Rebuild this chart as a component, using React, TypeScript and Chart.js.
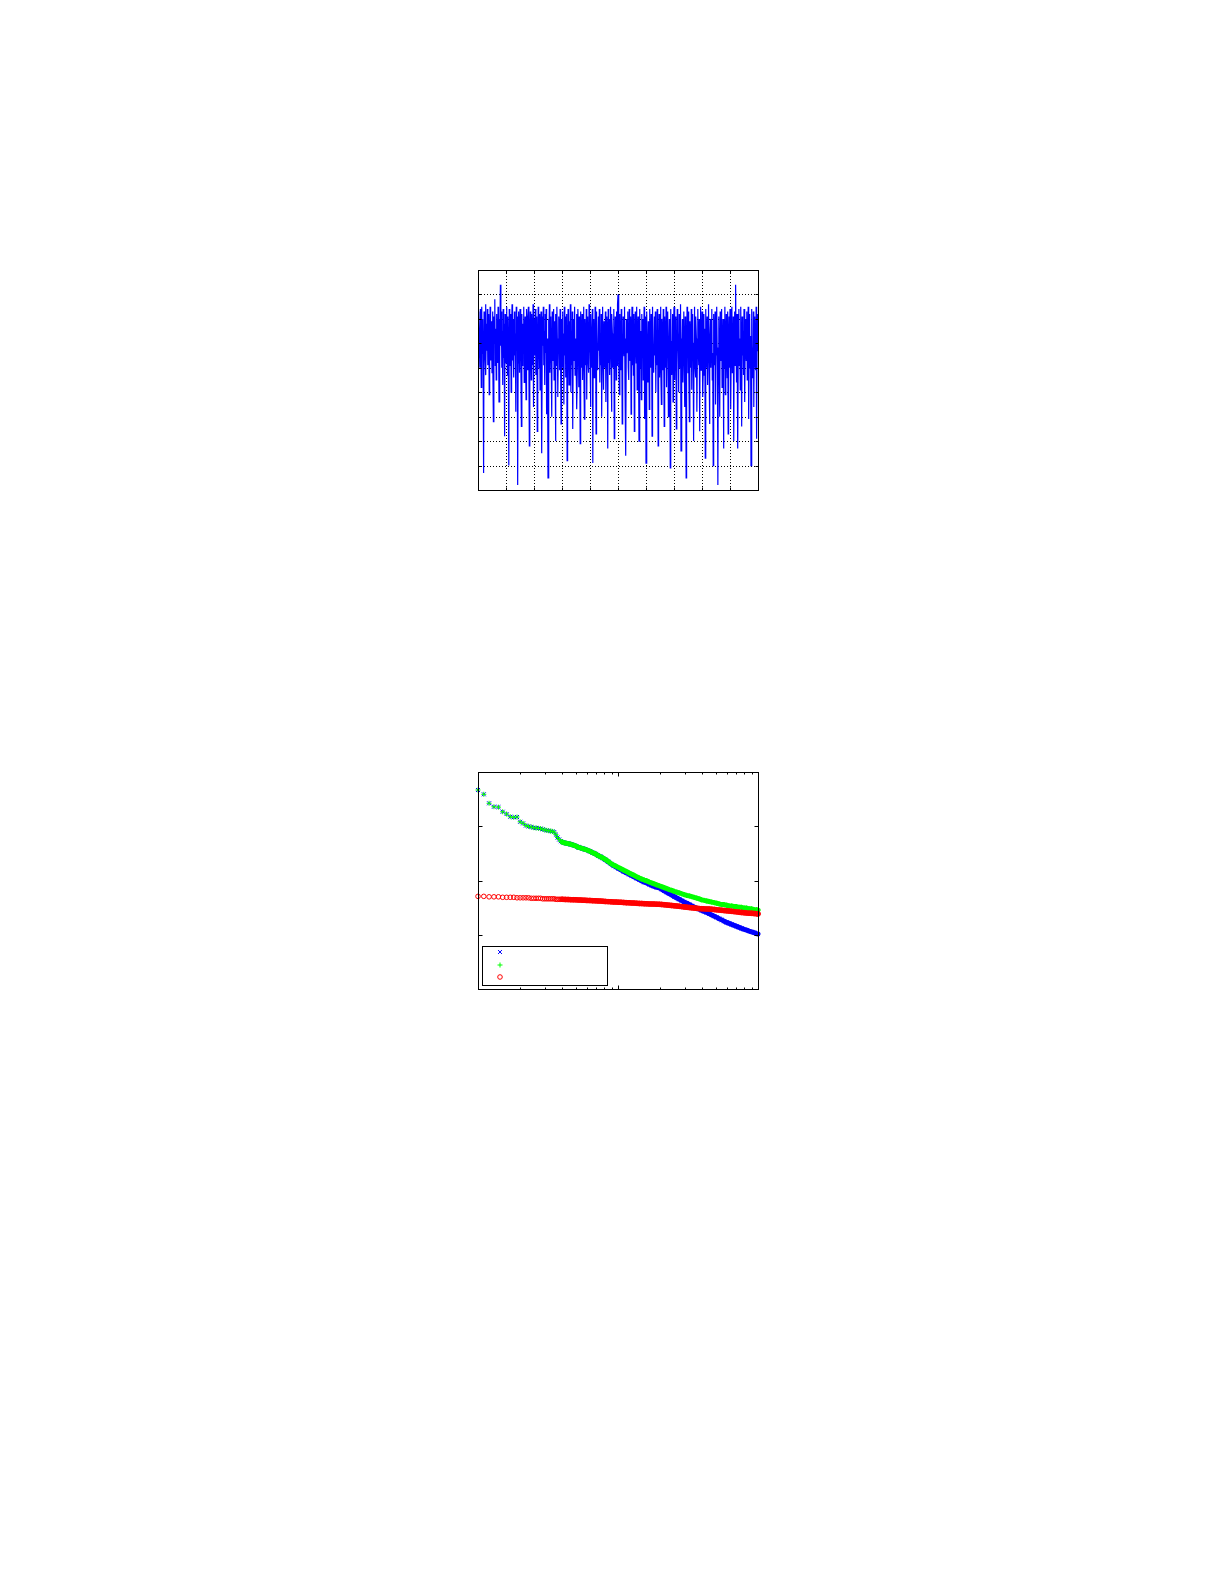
import React, { useEffect, useRef } from "react";
import { Chart, registerables } from "chart.js";

Chart.register(...registerables);

// ---------- Top chart: noisy signal ----------
const noiseSignal: number[] = [
  0.3, -1.6, 0.1, -1.1, -2.0, 0.4, -0.6, -2.8, 0.5, -1.4, 0.0, -1.8, -6.3, 0.3, -0.9, -1.5, 0.6, -2.3, -0.2, -1.3,
  0.4, -1.9, -0.5, 0.2, -3.1, -1.2, 0.5, -1.7, -0.1, -0.8, -2.2, 0.3, -1.4, -4.2, 0.1, -1.0, 0.8, -1.9, -0.4, -2.5,
  0.2, -1.3, -1.8, 0.5, -0.6, -3.4, 0.0, -1.5, 1.4, -1.1, 0.3, -2.0, -0.5, -2.7, 0.4, -1.6, -0.2, -4.8, 0.2, -1.2,
  -1.8, 0.5, -0.7, -2.3, 0.1, -1.4, -6.0, 0.4, -1.0, -1.9, 0.2, -3.0, -0.4, 0.6, -1.7, -0.9, 0.0, -2.4, 0.3, -1.5,
  -0.6, -3.8, 0.5, -1.3, 0.1, -6.8, -1.8, 0.3, -0.5, -2.2, 0.4, -1.4, -1.0, -4.4, 0.2, -1.9, -0.2, -1.2, 0.5, -2.6,
  -0.7, 0.1, -1.6, -3.3, 0.4, -1.1, -2.1, 0.0, 0.5, -1.8, -5.2, -0.5, 0.3, -1.4, -2.5, 0.2, -1.0, -1.9, 0.6, -3.6,
  0.0, -1.5, -0.6, 0.4, -2.3, -1.2, 0.1, -4.6, -1.7, 0.5, -0.9, -2.0, 0.2, -2.9, -0.4, 0.3, -1.6, -5.5, 0.1, -1.1,
  0.5, -1.9, -0.5, -2.7, 0.2, -1.4, 0.4, -3.9, -0.8, -1.8, -6.5, 0.0, -1.3, 0.6, -2.2, -0.6, 0.1, -2.0, -4.0, 0.3,
  -1.0, -1.7, 0.4, -2.5, -0.1, -1.2, -5.0, 0.2, -1.9, 0.5, -0.8, -3.2, -1.4, 0.1, -0.5, -2.1, 0.4, -1.6, -4.3, 0.0,
  -1.3, 0.3, -2.0, -0.6, -3.5, 0.5, -1.5, 0.1, -2.4, -0.9, 0.2, -5.8, -1.8, 0.4, -1.1, -2.7, -0.1, -1.4, 0.6, -3.0,
  -0.5, -1.9, 0.3, -4.5, -1.2, 0.0, -1.7, 0.5, -2.3, -0.8, -1.3, 0.2, -3.7, -1.9, 0.4, -0.4, -2.8, 0.1, -1.5, -5.1,
  0.3, -1.0, -2.0, 0.2, -2.5, -0.6, 0.5, -1.6, -4.1, 0.0, -1.2, -1.9, 0.4, -3.3, -0.5, 0.1, -1.8, -2.2, 0.6, -0.9,
  -1.4, -3.6, 0.2, -1.1, -2.0, 0.4, -5.9, -0.8, 0.0, -2.4, -1.5, 0.5, -0.5, -4.7, 0.3, -1.7, -1.0, -2.1, 0.1, -1.3,
  0.4, -2.6, -0.6, -1.9, 0.2, -4.0, -1.2, 0.5, -1.6, -2.9, -0.1, -0.9, -2.0, 0.3, -3.4, -1.4, 0.1, -0.7, -5.3, 0.4,
  -1.8, 0.0, -2.3, -1.0, 0.5, -1.5, -3.8, 0.2, -0.6, -2.0, -1.3, 0.4, -4.9, -1.7, 0.1, -1.1, -2.5, 0.3, -1.9, 0.6,
  1.0, -0.9, -1.6, -3.1, 0.2, -1.2, -2.1, 0.4, -0.5, -4.3, -1.9, 0.1, -1.0, -1.5, 0.5, -2.7, -0.8, -5.6, 0.0, -1.4,
  -0.6, 0.3, -2.0, -2.5, 0.4, -1.3, -1.7, 0.1, -3.9, -0.9, 0.5, -1.9, -0.4, -2.3, 0.2, -4.6, -1.4, 0.3, -1.1, -1.8,
  0.5, -2.9, -0.7, 0.1, -1.6, -5.0, -1.2, 0.4, -2.0, -0.5, -3.3, 0.2, -1.5, 0.0, -2.5, -1.0, 0.5, -4.1, -1.9, 0.1,
  -5.9, -1.3, 0.3, -1.7, -2.6, -0.1, -0.9, -3.7, 0.4, -1.4, -2.0, 0.2, -0.6, -4.8, 0.5, -1.8, -1.1, -2.2, 0.1, -1.5,
  0.3, -3.0, -1.0, -1.9, 0.4, -0.5, -5.2, -1.6, 0.2, -2.4, -1.2, 0.5, -1.9, -3.5, 0.0, -0.8, -2.1, 0.4, -1.4, -4.4,
  0.1, -1.1, -2.0, 0.5, -2.8, -0.6, -1.5, 0.3, -4.0, -1.3, 0.0, -1.8, -6.1, 0.4, -0.9, -2.3, -1.4, 0.2, -3.4, -0.4,
  0.5, -1.7, -2.5, 0.1, -1.0, -4.5, -1.9, 0.4, -0.5, -1.4, -3.0, 0.2, -1.2, -2.0, 0.6, -5.4, -0.8, -1.6, 0.0, -2.6,
  -0.9, 0.3, -1.9, -3.6, 0.1, -1.3, -6.5, -1.5, 0.5, -0.6, -2.2, 0.3, -1.8, -4.2, -0.1, -1.1, -2.0, 0.4, -2.9, -0.5,
  0.2, -1.4, -5.0, -1.0, 0.5, -1.9, -2.4, 0.1, -0.8, -3.8, -1.6, 0.4, -1.2, -1.9, 0.0, -4.6, -0.6, 0.5, -2.1, -1.5,
  0.3, -0.9, -3.2, -1.8, 0.2, -2.3, -0.4, -5.7, 0.4, -1.3, -2.0, 0.1, -2.7, -0.8, 0.6, -1.6, -4.3, -1.1, 0.0, -2.0,
  -0.5, 0.4, -2.5, -1.4, -6.0, 0.2, -1.0, -1.9, 0.3, -3.5, -0.7, -1.5, 0.5, -2.1, -6.8, -1.2, 0.1, -2.0, -4.0, 0.3,
  -0.8, -1.7, 0.4, -2.8, -1.3, 0.0, -5.3, -0.5, -2.0, 0.5, -3.1, -1.1, 0.2, -1.6, -2.4, 0.3, -4.7, -0.9, 0.1, -2.0,
  0.4, -1.4, -3.7, -0.6, 0.5, -2.2, -1.8, 0.1, -5.0, -1.0, 0.3, -1.9, 1.4, -1.2, -2.6, 0.2, -1.6, -5.3, -0.4, 0.4,
  -1.9, -0.8, -2.9, 0.5, -1.3, -4.4, 0.1, -1.5, -0.5, -2.3, 0.4, -2.0, -3.4, 0.0, -1.0, -1.7, 0.3, -2.5, -1.2, 0.5,
  -4.1, -1.4, 0.2, -2.0, -0.7, -6.0, 0.4, -1.1, -2.4, -1.6, 0.3, -3.6, -0.9, 0.1, -1.9, -2.1, 0.5, -4.9, -1.3, 0.2,
  -0.9,
];
const signalXMax = 600;
const signalXStep = 60;
const signalYMin = -7;
const signalYMax = 2;
const signalYStep = 1;

// ---------- Bottom chart: ranked values on log-log axes ----------
const rankX: number[] = [
  10, 11, 12, 13, 14, 15, 16, 17, 18, 19, 20, 21, 22, 23, 24, 25, 26, 27, 28, 29, 30,
  31, 32, 33, 34, 35, 36, 37, 38, 39, 40,
  42, 44, 46, 48, 50, 52, 54, 56, 58, 60,
  63, 66, 69, 72, 75, 78, 81, 85, 89, 93,
  97, 101, 105, 110, 115, 120, 125, 130, 136, 142,
  148, 154, 160, 167, 174, 181, 189, 197, 205, 214,
  223, 232, 242, 252, 263, 274, 285, 297, 310, 323,
  336, 350, 365, 380, 396, 413, 430, 448, 467, 487,
  507, 528, 550, 573, 597, 622, 648, 675, 703, 733,
  764, 796, 829, 864, 900, 938, 977, 1000,
];

const blueValues: number[] = [
  0.466, 0.388, 0.265, 0.229, 0.225, 0.185, 0.168, 0.150, 0.146, 0.148, 0.121,
  0.113, 0.103, 0.099, 0.097, 0.094, 0.093, 0.0917, 0.0905, 0.088, 0.0855,
  0.084, 0.0826, 0.0815, 0.0805, 0.078, 0.070, 0.062, 0.057, 0.053, 0.051,
  0.049, 0.0478, 0.0465, 0.045, 0.0432, 0.0409, 0.0398, 0.0388, 0.0376, 0.0365,
  0.0345, 0.0325, 0.031, 0.0288, 0.0274, 0.0258, 0.0242, 0.0222, 0.0203, 0.0188,
  0.0176, 0.0166, 0.0157, 0.0146, 0.0138, 0.013, 0.0123, 0.0117, 0.011, 0.0104,
  0.0098, 0.0093, 0.009, 0.0085, 0.0081, 0.0078, 0.0075, 0.0073, 0.0069, 0.00647,
  0.00608, 0.00574, 0.00538, 0.00506, 0.00476, 0.0045, 0.00426, 0.00403, 0.00381, 0.0036,
  0.00341, 0.00324, 0.00309, 0.00295, 0.00282, 0.00269, 0.00257, 0.00245, 0.00232, 0.0022,
  0.00209, 0.00198, 0.00188, 0.00178, 0.00169, 0.00162, 0.00155, 0.00149, 0.00143, 0.00137,
  0.00131, 0.00126, 0.00122, 0.00117, 0.00113, 0.00109, 0.00105, 0.00103,
];

const greenValues: number[] = [
  0.466, 0.388, 0.265, 0.229, 0.225, 0.185, 0.168, 0.150, 0.146, 0.148, 0.121,
  0.113, 0.103, 0.099, 0.097, 0.094, 0.093, 0.0917, 0.0905, 0.088, 0.0855,
  0.084, 0.0826, 0.0815, 0.0805, 0.078, 0.070, 0.062, 0.057, 0.053, 0.051,
  0.049, 0.0478, 0.0465, 0.045, 0.0432, 0.0409, 0.0398, 0.0388, 0.0376, 0.0365,
  0.0345, 0.0325, 0.031, 0.0288, 0.0274, 0.026, 0.0245, 0.0225, 0.0205, 0.0192,
  0.0183, 0.0173, 0.0165, 0.0155, 0.0146, 0.0138, 0.0131, 0.0125, 0.0117, 0.0111,
  0.0106, 0.0102, 0.0099, 0.0094, 0.009, 0.0087, 0.0083, 0.008, 0.0077, 0.0074,
  0.0071, 0.0068, 0.0066, 0.0063, 0.0061, 0.0059, 0.0057, 0.0055, 0.0053, 0.0052,
  0.00505, 0.0049, 0.00475, 0.0046, 0.0044, 0.0043, 0.0042, 0.0041, 0.004, 0.0039,
  0.0038, 0.0037, 0.0036, 0.0036, 0.0035, 0.0034, 0.0034, 0.0033, 0.0033, 0.0032,
  0.0032, 0.0031, 0.0031, 0.003, 0.003, 0.0029, 0.0029, 0.00285,
];

const redValues: number[] = [
  0.0051, 0.0051, 0.005, 0.005, 0.005, 0.0049, 0.0049, 0.0049, 0.0049, 0.0048, 0.0048,
  0.0048, 0.0048, 0.0048, 0.0047, 0.0047, 0.0047, 0.0047, 0.0047, 0.0046, 0.0046,
  0.0046, 0.0046, 0.0046, 0.0046, 0.0046, 0.0045, 0.0045, 0.0045, 0.0045, 0.0045,
  0.00448, 0.00446, 0.00444, 0.00442, 0.0044, 0.00438, 0.00436, 0.00434, 0.00432, 0.0043,
  0.00428, 0.00425, 0.00422, 0.0042, 0.00417, 0.00414, 0.00411, 0.00408, 0.00405, 0.00402,
  0.004, 0.00398, 0.00396, 0.00393, 0.0039, 0.00388, 0.00385, 0.00383, 0.0038, 0.00378,
  0.00376, 0.00374, 0.00372, 0.0037, 0.00368, 0.00367, 0.00366, 0.00364, 0.00362, 0.00358,
  0.00354, 0.0035, 0.00346, 0.00342, 0.00338, 0.00334, 0.0033, 0.00326, 0.00322, 0.00318,
  0.00314, 0.0031, 0.00307, 0.00304, 0.00302, 0.003, 0.00299, 0.00298, 0.00295, 0.00292,
  0.00288, 0.00285, 0.00282, 0.00279, 0.00276, 0.00273, 0.0027, 0.00267, 0.00264, 0.00261,
  0.00258, 0.00255, 0.00252, 0.0025, 0.00248, 0.00246, 0.00244, 0.00242,
];

const rankXMin = 10;
const rankXMax = 1000;
const rankYMin = 1e-4;
const rankYMax = 1;
// from this rank on the markers in the reference overlap into a solid band
const denseFromRank = 40;

// ---------- plugins ----------
type TickMark = { v: number; len: number };

function tickList(scale: any, minor: boolean, len: number): TickMark[] {
  const out: TickMark[] = [];
  if (scale.type === "logarithmic") {
    const lo = Math.floor(Math.log10(scale.min));
    const hi = Math.ceil(Math.log10(scale.max));
    for (let d = lo; d <= hi; d++) {
      for (let m = 1; m <= 9; m++) {
        const v = m * Math.pow(10, d);
        if (v <= scale.min * 1.001 || v >= scale.max * 0.999) continue;
        if (m === 1) out.push({ v, len: len + 1 });
        else if (minor) out.push({ v, len: len - 1 });
      }
    }
    return out;
  }
  for (const t of scale.ticks) {
    if (t.value <= scale.min || t.value >= scale.max) continue;
    out.push({ v: t.value, len });
  }
  return out;
}

const crisp = (p: number) => Math.round(p) + 0.5;

const axesFramePlugin = {
  id: "axesFrame",
  beforeDatasetsDraw(chart: any, _args: any, opts: any) {
    if (!opts || !opts.grid) return;
    const { ctx, chartArea: a, scales } = chart;
    ctx.save();
    ctx.strokeStyle = "#000";
    ctx.lineWidth = 1;
    ctx.setLineDash([1, 2]);
    for (const t of tickList(scales.x, false, 3)) {
      const p = crisp(scales.x.getPixelForValue(t.v));
      ctx.beginPath();
      ctx.moveTo(p, a.top);
      ctx.lineTo(p, a.bottom);
      ctx.stroke();
    }
    for (const t of tickList(scales.y, false, 3)) {
      const p = crisp(scales.y.getPixelForValue(t.v));
      ctx.beginPath();
      ctx.moveTo(a.left, p);
      ctx.lineTo(a.right, p);
      ctx.stroke();
    }
    ctx.restore();
  },
  afterDatasetsDraw(chart: any, _args: any, opts: any) {
    const { ctx, chartArea: a, scales } = chart;
    const o = opts || {};
    ctx.save();
    ctx.setLineDash([]);
    ctx.strokeStyle = "#000";
    ctx.lineWidth = 1;
    const L = crisp(a.left), R = crisp(a.right), T = crisp(a.top), B = crisp(a.bottom);
    ctx.strokeRect(L, T, R - L, B - T);
    ctx.beginPath();
    for (const t of tickList(scales.x, !!o.xMinor, 3)) {
      const p = crisp(scales.x.getPixelForValue(t.v));
      ctx.moveTo(p, B);
      ctx.lineTo(p, B - t.len);
      ctx.moveTo(p, T);
      ctx.lineTo(p, T + t.len);
    }
    for (const t of tickList(scales.y, !!o.yMinor, 3)) {
      const p = crisp(scales.y.getPixelForValue(t.v));
      ctx.moveTo(L, p);
      ctx.lineTo(L + t.len, p);
      ctx.moveTo(R, p);
      ctx.lineTo(R - t.len, p);
    }
    ctx.stroke();
    ctx.restore();
  },
};

function drawMarker(ctx: CanvasRenderingContext2D, style: string, x: number, y: number, r: number, color: string) {
  ctx.save();
  ctx.strokeStyle = color;
  ctx.lineWidth = 1;
  ctx.beginPath();
  if (style === "crossRot") {
    const d = r * Math.SQRT1_2;
    ctx.moveTo(x - d, y - d);
    ctx.lineTo(x + d, y + d);
    ctx.moveTo(x - d, y + d);
    ctx.lineTo(x + d, y - d);
  } else if (style === "cross") {
    ctx.moveTo(x - r, y);
    ctx.lineTo(x + r, y);
    ctx.moveTo(x, y - r);
    ctx.lineTo(x, y + r);
  } else {
    ctx.arc(x, y, r, 0, Math.PI * 2);
  }
  ctx.stroke();
  ctx.restore();
}

const insetLegendPlugin = {
  id: "insetLegend",
  afterDraw(chart: any) {
    const { ctx, chartArea: a } = chart;
    const left = crisp(a.left + 4);
    const right = crisp(a.left + 129);
    const top = crisp(a.bottom - 43);
    const bottom = crisp(a.bottom - 4);
    ctx.save();
    ctx.fillStyle = "#fff";
    ctx.fillRect(left, top, right - left, bottom - top);
    ctx.strokeStyle = "#000";
    ctx.lineWidth = 1;
    ctx.strokeRect(left, top, right - left, bottom - top);
    ctx.restore();
    const offsets = [37, 24, 12];
    const dsOrder = [2, 1, 0]; // blue, green, red in legend order
    dsOrder.forEach((di, k) => {
      const ds = chart.data.datasets[di];
      drawMarker(ctx, ds.pointStyle, a.left + 22, a.bottom - offsets[k], ds.pointRadius, ds.pointBorderColor);
    });
  },
};

const zeroSize = (scale: any) => {
  if (scale.isHorizontal()) scale.height = 0;
  else scale.width = 0;
};

function SignalChart() {
  const ref = useRef<HTMLCanvasElement | null>(null);
  useEffect(() => {
    if (!ref.current) return;
    const chart = new Chart(ref.current, {
      type: "line",
      data: {
        datasets: [
          {
            data: noiseSignal.map((v, i) => ({ x: i, y: v })),
            borderColor: "#0000ff",
            borderWidth: 1.2,
            pointRadius: 0,
            fill: false,
            tension: 0,
          },
        ],
      },
      options: {
        animation: false,
        responsive: false,
        events: [],
        layout: { padding: { left: 20, right: 20, top: 20, bottom: 20 } },
        plugins: {
          legend: { display: false },
          tooltip: { enabled: false },
          axesFrame: { grid: true },
        } as any,
        scales: {
          x: {
            type: "linear",
            min: 0,
            max: signalXMax,
            ticks: { display: false, stepSize: signalXStep },
            grid: { display: false },
            border: { display: false },
            afterFit: zeroSize,
          },
          y: {
            type: "linear",
            min: signalYMin,
            max: signalYMax,
            ticks: { display: false, stepSize: signalYStep },
            grid: { display: false },
            border: { display: false },
            afterFit: zeroSize,
          },
        },
      },
      plugins: [axesFramePlugin],
    });
    return () => chart.destroy();
  }, []);
  return (
    <canvas
      ref={ref}
      width={320}
      height={260}
      style={{ position: "absolute", left: 458, top: 250, width: 320, height: 260 }}
    />
  );
}

function markerSeries(values: number[], color: string, style: string, radius: number, band: number) {
  return {
    label: "",
    data: values.map((v, i) => ({ x: rankX[i], y: v })),
    showLine: true,
    borderColor: color,
    borderWidth: band,
    borderCapStyle: "round",
    borderJoinStyle: "round",
    segment: {
      borderColor: (c: any) => (c.p0.parsed.x >= denseFromRank ? color : "rgba(0,0,0,0)"),
    },
    pointStyle: style,
    pointRadius: radius,
    pointBorderWidth: 1,
    pointBorderColor: color,
    pointBackgroundColor: "rgba(0,0,0,0)",
    backgroundColor: "rgba(0,0,0,0)",
    clip: false,
  } as any;
}

function RankChart() {
  const ref = useRef<HTMLCanvasElement | null>(null);
  useEffect(() => {
    if (!ref.current) return;
    const chart = new Chart(ref.current, {
      type: "scatter",
      data: {
        datasets: [
          markerSeries(redValues, "#ff0000", "circle", 2.3, 5.5),
          markerSeries(greenValues, "#00ff00", "cross", 2.5, 5),
          markerSeries(blueValues, "#0000ff", "crossRot", 2.8, 5),
        ],
      },
      options: {
        animation: false,
        responsive: false,
        events: [],
        layout: { padding: { left: 20, right: 20, top: 20, bottom: 20 } },
        plugins: {
          legend: { display: false },
          tooltip: { enabled: false },
          axesFrame: { grid: false, xMinor: true, yMinor: false },
        } as any,
        scales: {
          x: {
            type: "logarithmic",
            min: rankXMin,
            max: rankXMax,
            ticks: { display: false },
            grid: { display: false },
            border: { display: false },
            afterFit: zeroSize,
          },
          y: {
            type: "logarithmic",
            min: rankYMin,
            max: rankYMax,
            ticks: { display: false },
            grid: { display: false },
            border: { display: false },
            afterFit: zeroSize,
          },
        },
      },
      plugins: [axesFramePlugin, insetLegendPlugin],
    });
    return () => chart.destroy();
  }, []);
  return (
    <canvas
      ref={ref}
      width={320}
      height={257}
      style={{ position: "absolute", left: 458, top: 752, width: 320, height: 257 }}
    />
  );
}

export default function App() {
  return (
    <div style={{ position: "absolute", left: 0, top: 0, width: 1225, height: 1585, background: "#fff" }}>
      <SignalChart />
      <RankChart />
    </div>
  );
}
